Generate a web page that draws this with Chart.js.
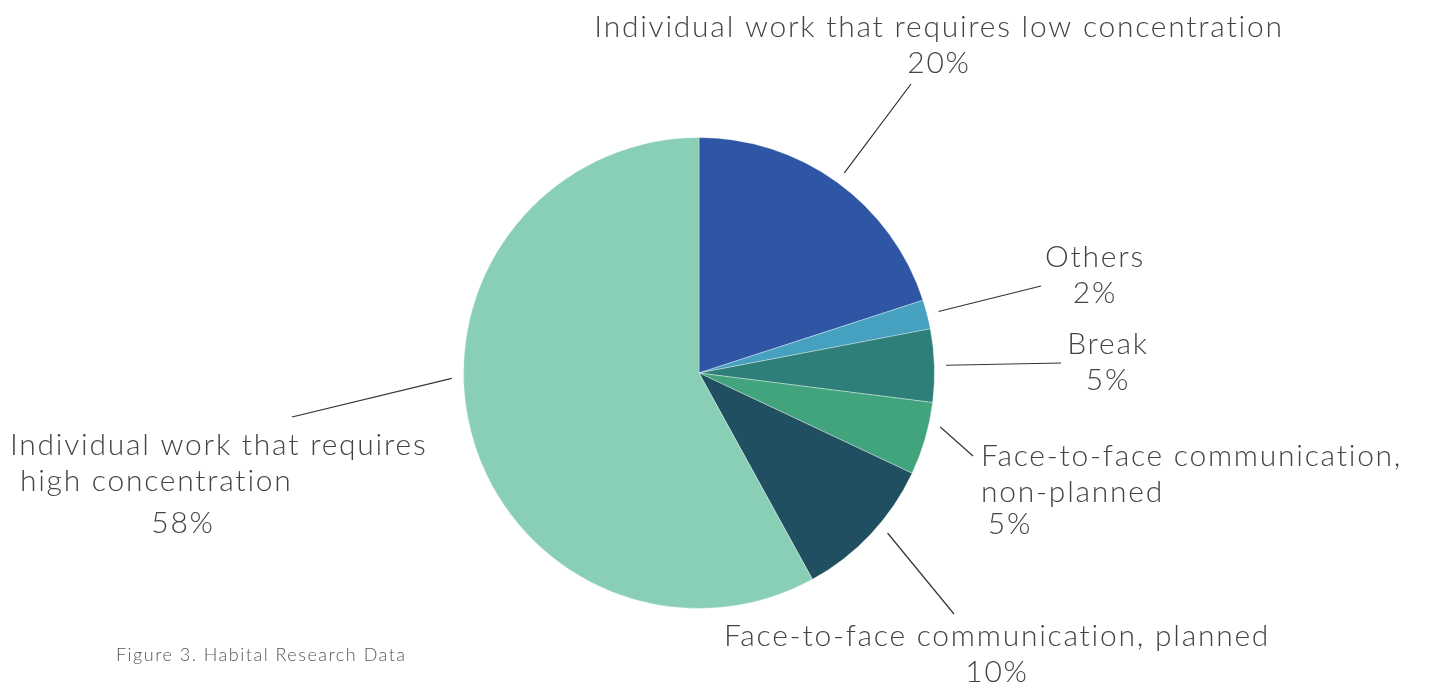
<!DOCTYPE html>
<html>
<head>
<meta charset="utf-8">
<script src="https://cdn.jsdelivr.net/npm/chart.js@4.4.1/dist/chart.umd.min.js"></script>
<style>
  html, body { margin: 0; padding: 0; background: #fff; }
  #wrap { position: relative; width: 1434px; height: 687px; }
  #caption { position: absolute; left: 116px; top: 643px; font: 300 18px Lato, sans-serif; color: #555; letter-spacing: 1.5px; }
</style>
</head>
<body>
<div id="wrap">
  <canvas id="pie" width="1434" height="687"></canvas>
  <div id="caption">Figure 3. Habital Research Data</div>
</div>
<script>
// data
const categories = [
  'Individual work that requires low concentration',
  'Others',
  'Break',
  'Face-to-face communication, non-planned',
  'Face-to-face communication, planned',
  'Individual work that requires high concentration'
];
const shares = [20, 2, 5, 5, 10, 58];
const sliceColors = ['#2E56A5', '#46A0BF', '#2E7F79', '#42A47D', '#1F4F60', '#88CFB5'];

// label layout: text lines, anchor of text, where the leader ends, where on the slice it starts (0..1)
const labelLayout = [
  { lines: ['Individual work that requires low concentration'], pctX: 939, x: 939, y: 27, align: 'center', lead: [911, 84], at: 0.5 },
  { lines: ['Others'], x: 1095, y: 257, pctX: 1095, align: 'center', lead: [1041, 286], at: 0.5 },
  { lines: ['Break'], x: 1108, y: 344, pctX: 1108, align: 'center', lead: [1061, 363], at: 0.5 },
  { lines: ['Face-to-face communication,', 'non-planned'], x: 981, y: 456, pctX: 1010, align: 'left', lead: [973, 456], at: 0.3, pctGap: 32 },
  { lines: ['Face-to-face communication, planned'], x: 997, y: 636, pctX: 997, align: 'center', lead: [954, 614], at: 0.42 },
  { lines: ['Individual work that requires', ' high concentration'], x: 10, y: 445, pctX: 183, align: 'left', lead: [292, 417], at: 0.563, pctGap: 42 }
];

const leaderLabels = {
  id: 'leaderLabels',
  afterDraw(chart) {
    const ctx = chart.ctx;
    const meta = chart.getDatasetMeta(0);
    ctx.save();
    ctx.font = '300 30px Lato, sans-serif';
    ctx.fillStyle = '#444';
    ctx.strokeStyle = '#333';
    ctx.lineWidth = 1.2;
    ctx.textBaseline = 'middle';
    if ('letterSpacing' in ctx) ctx.letterSpacing = '1.75px';
    meta.data.forEach((arc, i) => {
      const L = labelLayout[i];
      const p = arc.getProps(['x', 'y', 'startAngle', 'endAngle', 'outerRadius']);
      const a = p.startAngle + (p.endAngle - p.startAngle) * L.at;
      const r = p.outerRadius * 1.05;
      ctx.beginPath();
      ctx.moveTo(p.x + Math.cos(a) * r, p.y + Math.sin(a) * r);
      ctx.lineTo(L.lead[0], L.lead[1]);
      ctx.stroke();
      ctx.textAlign = L.align;
      L.lines.forEach((t, k) => ctx.fillText(t, L.x, L.y + k * 36));
      ctx.textAlign = 'center';
      const py = L.y + (L.lines.length - 1) * 36 + (L.pctGap || 36);
      ctx.fillText(shares[i] + '%', L.pctX, py);
    });
    ctx.restore();
  }
};

new Chart(document.getElementById('pie'), {
  type: 'pie',
  data: {
    labels: categories,
    datasets: [{
      data: shares,
      backgroundColor: sliceColors,
      borderColor: 'rgba(255,255,255,0.35)',
      borderWidth: 1
    }]
  },
  options: {
    responsive: false,
    animation: false,
    layout: { padding: { top: 137, bottom: 78, left: 463, right: 499 } },
    plugins: { legend: { display: false }, tooltip: { enabled: false } }
  },
  plugins: [leaderLabels]
});
</script>
</body>
</html>
